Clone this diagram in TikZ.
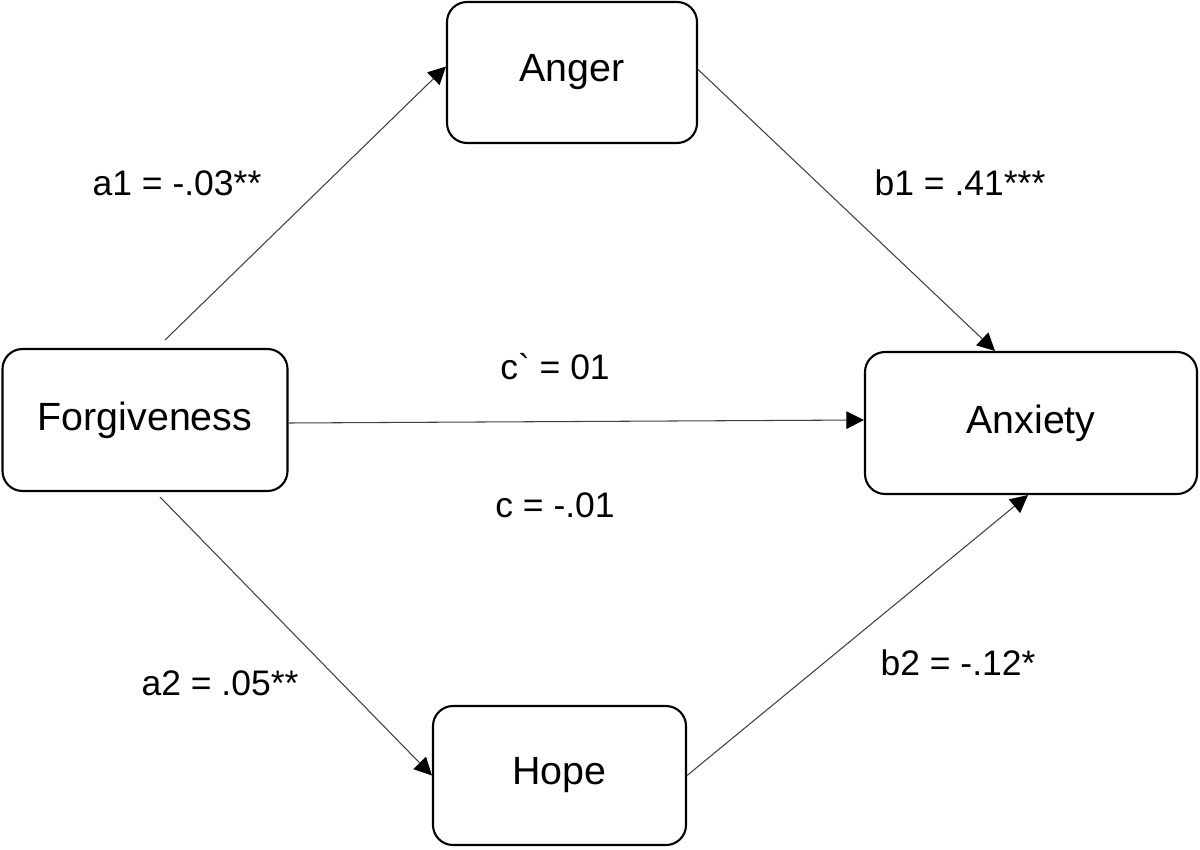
\documentclass[tikz,border=0pt]{standalone}
\usepackage{fontspec}
\setmainfont{Liberation Sans}
\usetikzlibrary{positioning}
\usetikzlibrary{arrows.meta}
\colorlet{lineC}{black!75}

\begin{document}
\begin{tikzpicture}[scale=1.0,
  varbox/.style={draw=black, line width=1.2pt, rounded corners=0.4cm, shape=rectangle,
    font=\fontsize{22.4}{26}\selectfont},
  conn/.style={draw=lineC, line width=0.6pt, -{Triangle[length=10pt,width=10pt,fill=black,color=black]}},
  coef/.style={font=\fontsize{20.2}{24}\selectfont}]
\useasboundingbox (0cm,0cm) rectangle (24cm,-16.98cm);

\node[varbox, minimum width=5.70cm, minimum height=2.84cm]
(forg) at (2.90cm,-8.40cm) {Forgiveness};
\node[varbox, minimum width=5.00cm, minimum height=2.82cm]
(anger) at (11.44cm,-1.45cm) {Anger};
\node[varbox, minimum width=6.64cm, minimum height=2.84cm]
(anx) at (20.62cm,-8.46cm) {Anxiety};
\node[varbox, minimum width=5.06cm, minimum height=2.78cm]
(hope) at (11.19cm,-15.51cm) {Hope};

\coordinate (a1start) at (3.30cm,-6.80cm);
\coordinate (a2start) at (3.20cm,-9.94cm);

\draw[conn] (a1start) -- ([yshift=0.12cm]anger.west);
\draw[conn] ([yshift=0.06cm]anger.east) -- ([xshift=-0.72cm]anx.north);
\draw[conn] ([yshift=-0.06cm]forg.east) -- ([yshift=0.06cm]anx.west);
\draw[conn] (a2start) -- (hope.west);
\draw[conn] (hope.east) -- ([xshift=-0.06cm]anx.south);

\node[coef] (a1) at (3.54cm,-3.66cm) {a1 = -.03**};
\node[coef] (b1) at (19.20cm,-3.66cm) {b1 = .41***};
\node[coef] (cprime) at (11.10cm,-7.34cm) {c\textasciigrave{} = 01};
\node[coef] (ctot) at (11.10cm,-10.10cm) {c = -.01};
\node[coef] (a2) at (4.40cm,-13.66cm) {a2 = .05**};
\node[coef] (b2) at (19.16cm,-13.26cm) {b2 = -.12*};

\end{tikzpicture}
\end{document}
